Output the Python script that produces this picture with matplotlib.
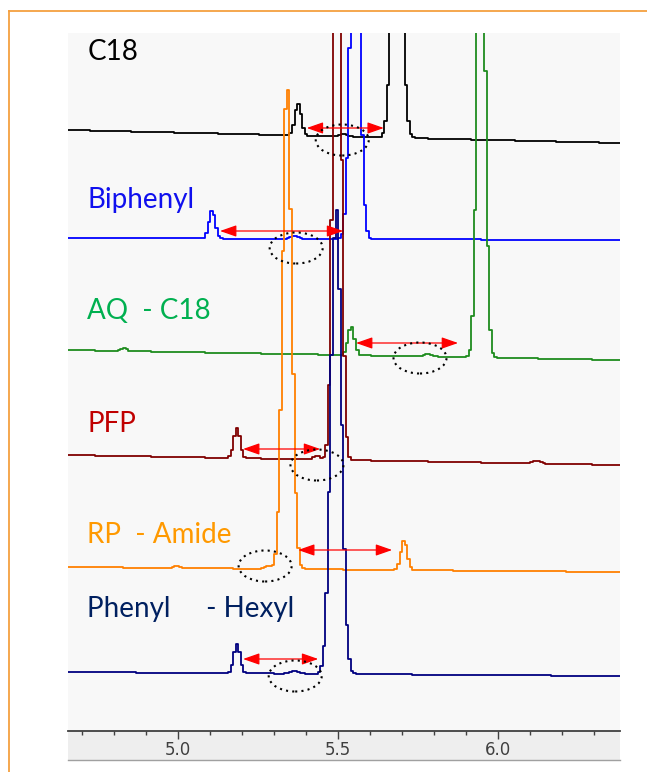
import numpy as np
import matplotlib
matplotlib.use("Agg")
import matplotlib.pyplot as plt
from matplotlib.patches import Ellipse, Rectangle
from matplotlib.lines import Line2D

# --------------------------
# Data (retention time in min, peak height, peak width sigma in min)
# --------------------------
labels = ["C18", "Biphenyl", "AQ  - C18", "PFP", "RP  - Amide", "Phenyl     - Hexyl"]
trace_colors = ["#000000", "#0000ff", "#1e8c1e", "#800000", "#ff8000", "#000080"]
label_colors = ["#000000", "#1010ee", "#00b050", "#c00000", "#ff9900", "#002060"]

c18_rt = [5.375, 5.516, 5.684]
c18_h = [32, 3, 300]
c18_w = [0.010, 0.012, 0.015]

biphenyl_rt = [5.106, 5.366, 5.553]
biphenyl_h = [28, 3, 400]
biphenyl_w = [0.010, 0.012, 0.014]

aq_rt = [4.831, 5.541, 5.781, 5.947]
aq_h = [3, 29, 3, 515]
aq_w = [0.008, 0.010, 0.012, 0.012]

pfp_rt = [5.184, 5.434, 5.497, 6.122]
pfp_h = [30, 4, 655, 3]
pfp_w = [0.010, 0.010, 0.012, 0.012]

amide_rt = [4.997, 5.281, 5.341, 5.706]
amide_h = [2, 3, 490, 30]
amide_w = [0.010, 0.010, 0.014, 0.010]

hexyl_rt = [5.184, 5.366, 5.494]
hexyl_h = [29, 3, 468]
hexyl_w = [0.010, 0.012, 0.016]

# baseline level at start / end of run (offset units)
base_start = [601, 493, 381, 276, 164, 59]
base_end = [588, 491, 371, 266, 159, 55]

# red arrows: (t_from, t_to, y) and dotted circles: (t_center, y_center)
arrows = [(5.402, 5.643, 603), (5.131, 5.516, 500), (5.556, 5.875, 388),
          (5.203, 5.444, 282), (5.375, 5.669, 181), (5.203, 5.438, 72)]
circles = [(5.513, 591), (5.369, 483), (5.756, 373),
           (5.434, 266), (5.272, 165), (5.366, 55)]

peaks = [(c18_rt, c18_h, c18_w), (biphenyl_rt, biphenyl_h, biphenyl_w),
         (aq_rt, aq_h, aq_w), (pfp_rt, pfp_h, pfp_w),
         (amide_rt, amide_h, amide_w), (hexyl_rt, hexyl_h, hexyl_w)]

label_y = [671, 523, 412, 299, 188, 114]

# --------------------------
# Figure
# --------------------------
fig = plt.figure(figsize=(6.47, 7.72), dpi=100)
ax = fig.add_axes([68 / 647, 41 / 772, 552 / 647, 698 / 772])
ax.set_facecolor("#f8f8f8")

t0, t1 = 4.656, 6.381
t = np.arange(t0, t1 + 0.008, 0.008)

for i, (rt, h, w) in enumerate(peaks):
    y = base_start[i] + (base_end[i] - base_start[i]) * (t - t0) / (t1 - t0)
    for r, hh, ww in zip(rt, h, w):
        y = y + hh * np.exp(-0.5 * ((t - r) / ww) ** 2)
    ax.plot(t, y, color=trace_colors[i], lw=1.3, drawstyle="steps-mid", zorder=2 + i * 0.1)
    ax.text(4.716, label_y[i], labels[i], color=label_colors[i], fontsize=20,
            family="Lato", va="baseline", ha="left", zorder=5)

for (a, b, yy) in arrows:
    ax.annotate("", xy=(b, yy), xytext=(a, yy),
                arrowprops=dict(arrowstyle="<|-|>,head_length=1.0,head_width=0.35",
                                color="#ff0000", lw=0.9, mutation_scale=10,
                                shrinkA=0, shrinkB=0), zorder=6)

for (cx, cy) in circles:
    ax.add_patch(Ellipse((cx, cy), 53 / 320, 31, fill=False, ec="black",
                         lw=1.5, ls=(0, (1, 2)), zorder=7))

ax.set_xlim(t0, t1)
ax.set_ylim(0, 698)
ax.set_yticks([])
for s in ["top", "right", "left"]:
    ax.spines[s].set_visible(False)
ax.spines["bottom"].set_color("#404040")
ax.spines["bottom"].set_linewidth(1.3)
ax.set_xticks([5.0, 5.5, 6.0])
ax.set_xticklabels(["5.0", "5.5", "6.0"])
ax.set_xticks(np.arange(4.7, 6.4, 0.1), minor=True)
ax.tick_params(axis="x", which="major", length=6, width=1, color="#404040",
               labelsize=12, labelcolor="#404040", pad=1)
ax.tick_params(axis="x", which="minor", length=3, width=1, color="#404040")

# gray axis strip below the plot
fig.patches.append(Rectangle((68 / 647, 12 / 772), 552 / 647, 29 / 772,
                             transform=fig.transFigure, fc="#eeeeee", ec="none", zorder=-1))
fig.lines.append(Line2D([68 / 647, 620 / 647], [12 / 772, 12 / 772],
                        transform=fig.transFigure, color="#a0a0a0", lw=1))

# orange frame
fig.lines.append(Line2D([9 / 647, 1.0], [761 / 772, 761 / 772],
                        transform=fig.transFigure, color="#f4a040", lw=1.3))
fig.lines.append(Line2D([9 / 647, 9 / 647], [0, 761 / 772],
                        transform=fig.transFigure, color="#f4a040", lw=1.3))

fig.savefig("out.png", dpi=100)
